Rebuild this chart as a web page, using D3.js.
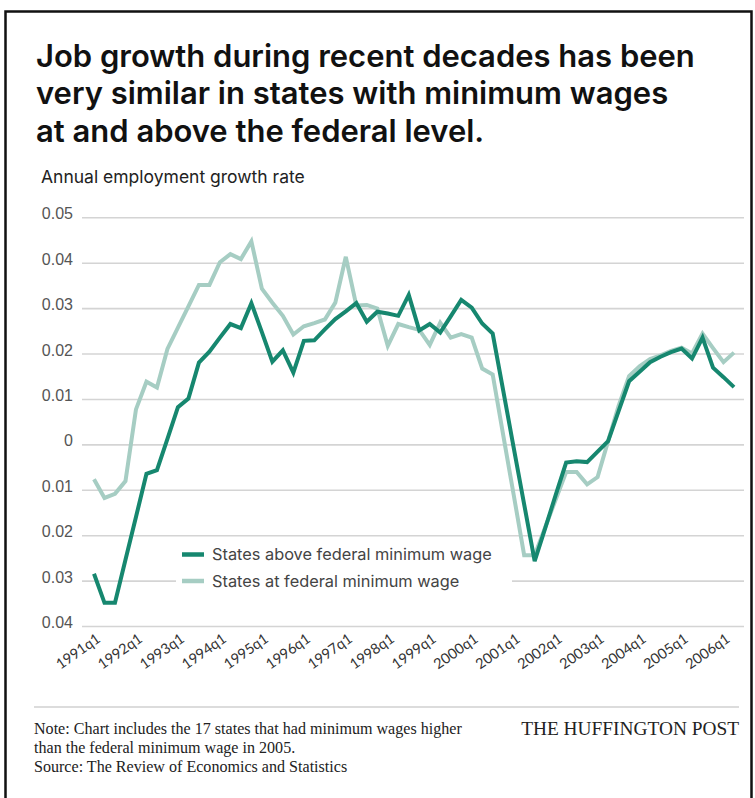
<!DOCTYPE html>
<html>
<head>
<meta charset="utf-8">
<script src="https://cdn.jsdelivr.net/npm/d3@7"></script>
<style>
  body { margin: 0; background: #fff; }
  svg { display: block; }
</style>
</head>
<body>
<div id="container"></div>
<script>
/* CONSTANTS AND GLOBALS */
const width = 755,
      height = 798,
      margin = {top: 217.3, bottom: 172, left: 82, right: 11};

const titleLines = [
  "Job growth during recent decades has been",
  "very similar in states with minimum wages",
  "at and above the federal level."
];
const subtitle = "Annual employment growth rate";

/* DATA */
// quarterly, 1991q1 .. 2006q2
const quarters = d3.range(62).map(i => `${1991 + Math.floor(i / 4)}q${i % 4 + 1}`);
const tickLabels = ["1991q1", "1992q1", "1993q1", "1994q1", "1995q1", "1996q1", "1997q1", "1998q1",
                    "1999q1", "2000q1", "2001q1", "2002q1", "2003q1", "2004q1", "2005q1", "2006q1"];
const yTicks = [0.05, 0.04, 0.03, 0.02, 0.01, 0, -0.01, -0.02, -0.03, -0.04];

const aboveFederal = [
  -0.0285, -0.0349, -0.0349, -0.0254, -0.0160, -0.0065, -0.0057, 0.0012,
   0.0082,  0.0101,  0.0180,  0.0204,  0.0235,  0.0265,  0.0256, 0.0311,
   0.0247,  0.0182,  0.0207,  0.0158,  0.0228,  0.0229,  0.0253, 0.0276,
   0.0293,  0.0311,  0.0270,  0.0292,  0.0288,  0.0283,  0.0329, 0.0251,
   0.0265,  0.0246,  0.0282,  0.0318,  0.0301,  0.0266,  0.0244, 0.0119,
  -0.0007, -0.0132, -0.0257, -0.0185, -0.0112, -0.0040, -0.0037, -0.0039,
  -0.0016,  0.0007,  0.0073,  0.0139,  0.0160,  0.0181,  0.0193, 0.0203,
   0.0211,  0.0189,  0.0235,  0.0169,  0.0148,  0.0126
];
const atFederal = [
  -0.0077, -0.0118, -0.0109, -0.0081,  0.0077,  0.0138,  0.0125, 0.0210,
   0.0257,  0.0304,  0.0351,  0.0351,  0.0401,  0.0419,  0.0408, 0.0447,
   0.0343,  0.0312,  0.0283,  0.0242,  0.0260,  0.0267,  0.0275, 0.0312,
   0.0413,  0.0306,  0.0307,  0.0299,  0.0217,  0.0265,  0.0258, 0.0252,
   0.0219,  0.0268,  0.0235,  0.0243,  0.0235,  0.0167,  0.0154, 0.0021,
  -0.0111, -0.0244, -0.0244, -0.0183, -0.0122, -0.0061, -0.0061, -0.0088,
  -0.0072,  0.0007,  0.0085,  0.0150,  0.0172,  0.0188,  0.0196, 0.0206,
   0.0213,  0.0200,  0.0244,  0.0212,  0.0181,  0.0202
];

const series = [
  {name: "States at federal minimum wage", values: atFederal, color: "#a6cdc3"},
  {name: "States above federal minimum wage", values: aboveFederal, color: "#16876f"}
];

const notes = [
  "Note: Chart includes the 17 states that had minimum wages higher",
  "than the federal minimum wage in 2005.",
  "Source: The Review of Economics and Statistics"
];

// scale font-size of a text selection so its first node is `target` px wide
function fitWidth(sel, target) {
  const node = sel.node();
  const size = parseFloat(sel.attr("font-size"));
  const w = node.getComputedTextLength();
  if (w > 0) sel.attr("font-size", size * target / w);
}

/* SCALES */
const xScale = d3.scalePoint()
                 .domain(quarters)
                 .range([94, 734]);

const yScale = d3.scaleLinear()
                 .domain([-0.04, 0.05])
                 .range([626, margin.top]);

/* HTML ELEMENTS */
const svg = d3.select("#container")
              .append("svg")
              .attr("width", width)
              .attr("height", height);

// frame
svg.append("path")
   .attr("d", `M5.5,${height + 5} V11.5 H751.5 V${height + 5}`)
   .attr("fill", "none")
   .attr("stroke", "#111")
   .attr("stroke-width", 2.5);

// title
const title = svg.append("g")
   .selectAll("text")
   .data(titleLines)
   .join("text")
   .attr("x", 36)
   .attr("y", (d, i) => 66.5 + i * 37.6)
   .attr("font-family", "Inter, sans-serif")
   .attr("font-weight", 600)
   .attr("font-size", 28)
   .attr("fill", "#111")
   .text(d => d);
fitWidth(title, 659);

const sub = svg.append("text")
   .attr("x", 41)
   .attr("y", 182.5)
   .attr("font-family", "Inter, sans-serif")
   .attr("font-size", 14)
   .attr("fill", "#222")
   .text(subtitle);
fitWidth(sub, 264);

// y axis with gridlines
const yAxis = d3.axisLeft(yScale)
                .tickValues(yTicks)
                .tickSize(-(744 - margin.left))
                .tickPadding(9)
                .tickFormat(d => d === 0 ? "0" : Math.abs(d).toFixed(2));

svg.append("g")
   .attr("transform", `translate(${margin.left}, 0)`)
   .call(yAxis)
   .call(g => g.select(".domain").remove())
   .call(g => g.selectAll(".tick line")
               .attr("stroke", "#d4d4d4")
               .attr("stroke-width", 1.6))
   .call(g => g.selectAll(".tick text")
               .attr("dy", "0.1em")
               .attr("font-family", "'Liberation Sans', Arial, sans-serif")
               .attr("font-size", 16)
               .attr("fill", "#555"));

// x axis labels
const xAxis = d3.axisBottom(xScale)
                .tickValues(tickLabels)
                .tickSize(0);

svg.append("g")
   .attr("transform", `translate(0, 626)`)
   .call(xAxis)
   .call(g => g.select(".domain").remove())
   .call(g => g.selectAll(".tick text")
               .attr("x", 0)
               .attr("y", 0)
               .attr("dy", 0)
               .attr("transform", "translate(7, 15) rotate(-35)")
               .attr("text-anchor", "end")
               .attr("font-family", "Lato, sans-serif")
               .attr("font-size", 14.5)
               .attr("fill", "#333"));

// legend box hides part of the gridline
const legend = svg.append("g");
legend.append("rect")
      .attr("x", 176)
      .attr("y", 544)
      .attr("width", 336)
      .attr("height", 52)
      .attr("fill", "#fff");

// lines
const line = d3.line()
               .x((d, i) => xScale(quarters[i]))
               .y(d => yScale(d));

svg.append("g")
   .selectAll("path")
   .data(series)
   .join("path")
   .attr("d", d => line(d.values))
   .attr("fill", "none")
   .attr("stroke", d => d.color)
   .attr("stroke-width", 4)
   .attr("stroke-linejoin", "miter")
   .attr("stroke-miterlimit", 3);

const legendItems = legend.selectAll("g.item")
  .data(series.slice().reverse())
  .join("g")
  .attr("class", "item")
  .attr("transform", (d, i) => `translate(182, ${554.5 + i * 26.5})`);

legendItems.append("line")
   .attr("x1", 0)
   .attr("x2", 22)
   .attr("stroke", d => d.color)
   .attr("stroke-width", 4.5);

const legendText = legendItems.append("text")
   .attr("x", 30)
   .attr("dy", "0.35em")
   .attr("font-family", "Inter, sans-serif")
   .attr("font-size", 15)
   .attr("fill", "#444")
   .text(d => d.name);
fitWidth(legendText, 280);

// footer
svg.append("line")
   .attr("x1", 34)
   .attr("x2", 739)
   .attr("y1", 707)
   .attr("y2", 707)
   .attr("stroke", "#dcdcdc")
   .attr("stroke-width", 2);

const noteText = svg.append("g")
   .selectAll("text")
   .data(notes)
   .join("text")
   .attr("x", 34)
   .attr("y", (d, i) => 734 + i * 19)
   .attr("font-family", "'Liberation Serif', 'Times New Roman', serif")
   .attr("font-size", 14)
   .attr("fill", "#222")
   .text(d => d);
fitWidth(noteText, 428);

const brand = svg.append("text")
   .attr("x", 739)
   .attr("y", 735)
   .attr("text-anchor", "end")
   .attr("font-family", "'Liberation Serif', 'Times New Roman', serif")
   .attr("font-size", 17)
   .attr("fill", "#222")
   .text("THE HUFFINGTON POST");
fitWidth(brand, 218);
</script>
</body>
</html>
